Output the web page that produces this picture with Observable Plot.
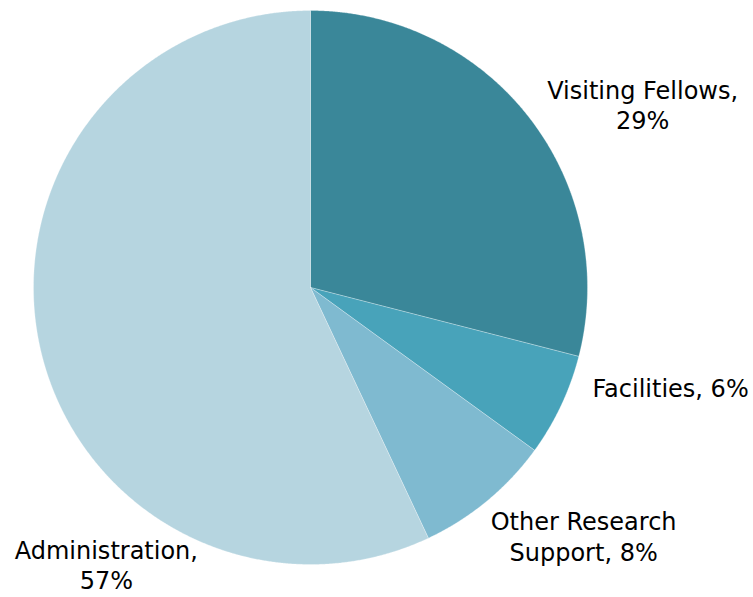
<!DOCTYPE html>
<html>
<head>
<meta charset="utf-8">
<script src="https://cdn.jsdelivr.net/npm/d3@7"></script>
<script src="https://cdn.jsdelivr.net/npm/@observablehq/plot@0.6"></script>
<style>
  html, body { margin: 0; padding: 0; background: #fff; }
  #chart svg { display: block; }
</style>
</head>
<body>
<div id="chart"></div>
<script>
// ---- data ----
const categories = ["Visiting Fellows", "Facilities", "Other Research Support", "Administration"];
const shares = [29, 6, 8, 57];
const colors = ["#3a8799", "#48a3ba", "#7fbad0", "#b6d5e0"];
const labelLines = ["Visiting Fellows,\n29%", "Facilities, 6%", "Other Research\nSupport, 8%", "Administration,\n57%"];

// ---- layout (pie drawn on a unit circle, label anchors in the same units) ----
const labelAnchors = [[1.199, 0.662], [1.300, -0.358], [0.986, -0.895], [-0.737, -0.999]];
const xDomain = [-1.1191, 1.5993];
const yDomain = [-1.1191, 1.0361];

const arcs = d3.pie().sort(null).value(d => d)(shares);
const step = Math.PI / 720;
const slicePoints = [];
arcs.forEach((a, i) => {
  const cat = categories[i];
  slicePoints.push({cat, x: 0, y: 0});
  const n = Math.max(2, Math.ceil((a.endAngle - a.startAngle) / step));
  for (let k = 0; k <= n; k++) {
    const t = a.startAngle + (a.endAngle - a.startAngle) * k / n;
    slicePoints.push({cat, x: Math.sin(t), y: Math.cos(t)});
  }
  slicePoints.push({cat, x: 0, y: 0});
});

const labelData = categories.map((c, i) => ({
  cat: c, text: labelLines[i], x: labelAnchors[i][0], y: labelAnchors[i][1]
}));

const chart = Plot.plot({
  width: 753,
  height: 597,
  margin: 0,
  style: {fontFamily: "DejaVu Sans", background: "#fff"},
  x: {domain: xDomain, axis: null},
  y: {domain: yDomain, axis: null},
  color: {domain: categories, range: colors},
  marks: [
    Plot.line(slicePoints, {x: "x", y: "y", z: "cat", fill: "cat", stroke: "#ffffff", strokeWidth: 0.6, strokeOpacity: 0.45, curve: "linear"}),
    Plot.text(labelData, {x: "x", y: "y", text: "text", fill: "#000", fontSize: 24, lineHeight: 1.28, textAnchor: "middle", lineAnchor: "middle"})
  ]
});
document.getElementById("chart").appendChild(chart);
</script>
</body>
</html>
